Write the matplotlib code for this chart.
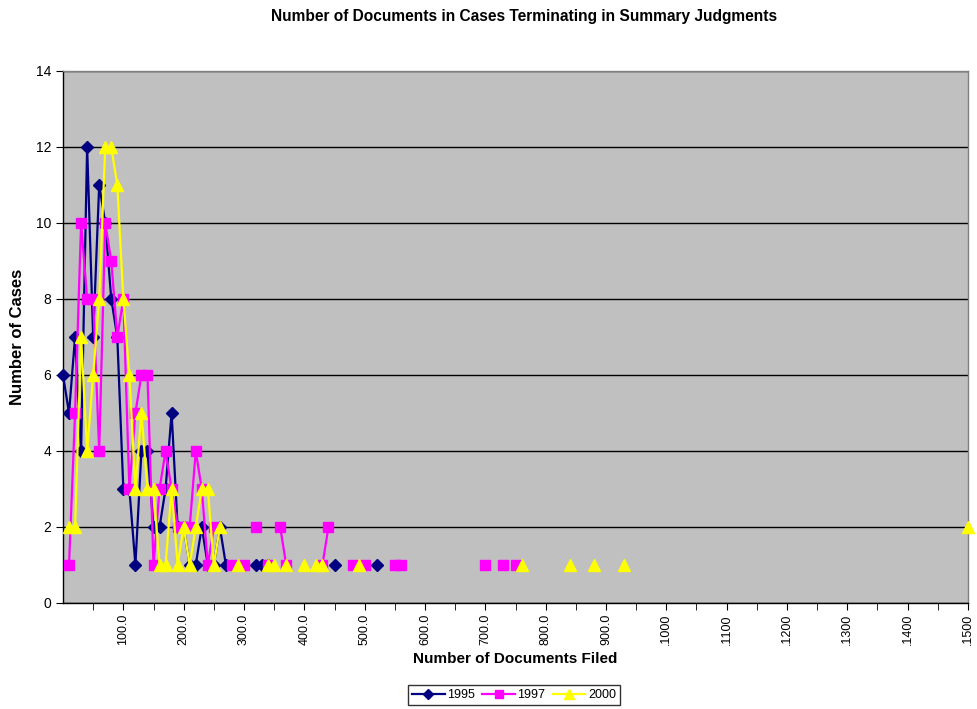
import numpy as np
import matplotlib
matplotlib.use("Agg")
import matplotlib.pyplot as plt
from matplotlib.lines import Line2D

plt.rcParams['font.family'] = ['Liberation Sans', 'DejaVu Sans']

# ---- data (bins of number of documents filed) ----
x1995 = [0, 10, 20, 30, 40, 50, 60, 70, 80, 90, 100, 110, 120, 130, 140, 150, 160, 170, 180, 190,
         200, 210, 220, 230, 240, 250, 260, 270, 320, 330, 340, 450, 520]
y1995 = [6, 5, 7, 4, 12, 7, 11, 10, 8, 7, 3, 3, 1, 4, 4, 2, 2, 3, 5, 2,
         2, 1, 1, 2, 1, 1, 2, 1, 1, 1, 1, 1, 1]

x1997 = [10, 20, 30, 40, 50, 60, 70, 80, 90, 100, 110, 120, 130, 140, 150, 160, 170, 180, 190, 200,
         210, 220, 230, 240, 250, 280, 300, 320, 340, 360, 370, 430, 440, 480, 500, 550, 560, 700,
         730, 750]
y1997 = [1, 5, 10, 8, 8, 4, 10, 9, 7, 8, 3, 5, 6, 6, 1, 3, 4, 3, 2, 2,
         2, 4, 3, 1, 2, 1, 1, 2, 1, 2, 1, 1, 2, 1, 1, 1, 1, 1,
         1, 1]

x2000 = [10, 20, 30, 40, 50, 60, 70, 80, 90, 100, 110, 120, 130, 140, 150, 160, 170, 180, 190, 200,
         210, 220, 230, 240, 250, 260, 290, 340, 350, 370, 400, 420, 430, 490, 760, 840, 880, 930,
         1500]
y2000 = [2, 2, 7, 4, 6, 8, 12, 12, 11, 8, 6, 3, 5, 3, 3, 1, 1, 3, 1, 2,
         1, 2, 3, 3, 1, 2, 1, 1, 1, 1, 1, 1, 1, 1, 1, 1, 1, 1,
         2]

series_names = ["1995", "1997", "2000"]
tick_vals = [100, 200, 300, 400, 500, 600, 700, 800, 900, 1000, 1100, 1200, 1300, 1400, 1500]
tick_labels = ["100.0", "200.0", "300.0", "400.0", "500.0", "600.0", "700.0", "800.0", "900.0",
               ".1000", ".1100", ".1200", ".1300", ".1400", ".1500"]
BIN = 10


def with_gaps(xs, ys):
    xs = np.asarray(xs, float)
    ys = np.asarray(ys, float)
    ox, oy = [xs[0]], [ys[0]]
    for i in range(1, len(xs)):
        if xs[i] - xs[i - 1] > BIN:
            ox.append(np.nan)
            oy.append(np.nan)
        ox.append(xs[i])
        oy.append(ys[i])
    return np.array(ox), np.array(oy)


fig = plt.figure(figsize=(9.77, 7.09), dpi=100)
ax = fig.add_axes([63 / 977, 1 - 603 / 709, (968 - 63) / 977, (603 - 71) / 709])
ax.set_facecolor('#C0C0C0')

styles = [
    dict(color='#000080', marker='D', markersize=6.5),
    dict(color='#FF00FF', marker='s', markersize=7),
    dict(color='#FFFF00', marker='^', markersize=8.5),
]
data = [(x1995, y1995), (x1997, y1997), (x2000, y2000)]
for (xs, ys), st, name in zip(data, styles, series_names):
    gx, gy = with_gaps(xs, ys)
    ax.plot(gx, gy, color=st['color'], lw=1.6, marker=st['marker'], markersize=st['markersize'],
            markerfacecolor=st['color'], markeredgecolor=st['color'], zorder=3, label=name,
            clip_on=False)

ax.set_xlim(0, 1500)
ax.set_ylim(0, 14)
ax.set_yticks(range(0, 15, 2))
ax.yaxis.grid(True, color='black', lw=1.0)
ax.set_axisbelow(True)
ax.set_xticks(tick_vals)
ax.set_xticklabels(tick_labels, rotation=90, fontsize=9, va='top')
ax.set_xticks(np.arange(50, 1500, 100), minor=True)
ax.tick_params(axis='x', which='both', direction='out', length=5, color='black', pad=3)
ax.tick_params(axis='y', which='both', direction='out', length=5, labelsize=10)
for s in ['left', 'bottom']:
    ax.spines[s].set_color('black')
    ax.spines[s].set_linewidth(1.0)
for s in ['top', 'right']:
    ax.spines[s].set_color('#808080')
    ax.spines[s].set_linewidth(1.0)

ax.set_xlabel("Number of Documents Filed", fontsize=11, fontweight='bold', labelpad=5)
ax.set_ylabel("Number of Cases", fontsize=12, fontweight='bold', labelpad=8)
fig.text(524 / 977, 1 - 17 / 709, "Number of Documents in Cases Terminating in Summary Judgments",
         ha='center', va='center', fontsize=11.2, fontweight='bold')

handles = [Line2D([0], [0], color=st['color'], lw=1.6, marker=st['marker'],
                  markersize=st['markersize'] * 0.8, markerfacecolor=st['color'],
                  markeredgecolor=st['color']) for st in styles]
leg = fig.legend(handles, series_names, loc='center', bbox_to_anchor=(514 / 977, 1 - 695 / 709),
                 ncol=3, fontsize=9, frameon=True, fancybox=False, edgecolor='black',
                 handlelength=2.6, handletextpad=0.2, columnspacing=0.6, borderpad=0.3)
leg.get_frame().set_linewidth(1.0)

fig.savefig("out.png", dpi=100)
